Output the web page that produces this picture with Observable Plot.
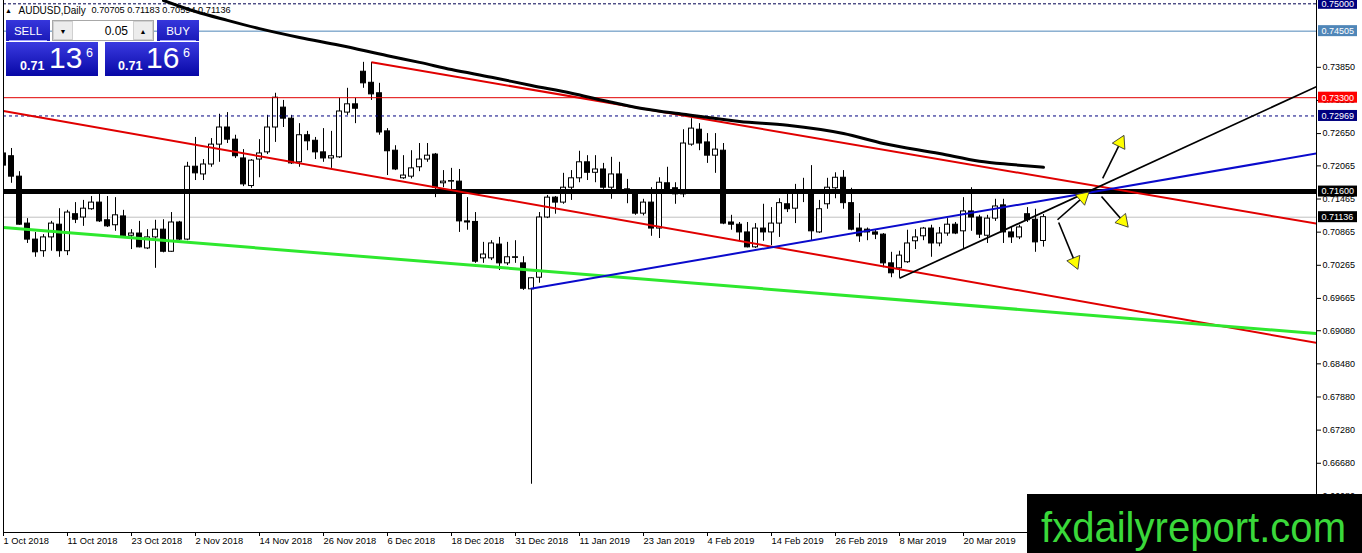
<!DOCTYPE html>
<html><head><meta charset="utf-8">
<script src="https://cdn.jsdelivr.net/npm/d3@7"></script>
<script src="https://cdn.jsdelivr.net/npm/@observablehq/plot@0.6"></script>
<style>
body{margin:0;background:#fff;}
#wrap{position:relative;width:1362px;height:553px;overflow:hidden;background:#fff;}
#wrap svg.plot{position:absolute;left:0;top:0;}
#ov{position:absolute;left:0;top:0;pointer-events:none;font-family:"Liberation Sans",Arial,sans-serif;}
</style></head>
<body><div id="wrap"></div>
<script>
// ---- data (AUDUSD daily, bar index 0 = 1 Oct 2018) ----
const open = [0.7229,0.7224,0.7187,0.7102,0.7073,0.7052,0.7077,0.7100,0.7052,0.7119,
0.7113,0.7128,0.7140,0.7108,0.7099,0.7115,0.7080,0.7084,0.7057,0.7077,
0.7091,0.7051,0.7104,0.7073,0.7205,0.7191,0.7209,0.7245,0.7276,0.7254,
0.7220,0.7170,0.7218,0.7231,0.7276,0.7312,0.7292,0.7213,0.7262,0.7252,
0.7231,0.7220,0.7222,0.7303,0.7318,0.7377,0.7357,0.7338,0.7269,0.7234,
0.7184,0.7187,0.7204,0.7218,0.7227,0.7175,0.7178,0.7178,0.7106,0.7105,
0.7039,0.7039,0.7064,0.7030,0.7041,0.7030,0.6983,0.7004,0.7113,0.7149,
0.7140,0.7167,0.7184,0.7213,0.7194,0.7200,0.7167,0.7191,0.7164,0.7158,
0.7120,0.7140,0.7093,0.7175,0.7166,0.7155,0.7245,0.7272,0.7249,0.7225,
0.7234,0.7104,0.7100,0.7086,0.7059,0.7093,0.7086,0.7102,0.7137,0.7129,
0.7160,0.7158,0.7086,0.7137,0.7166,0.7185,0.7139,0.7093,0.7091,0.7086,
0.7082,0.7030,0.7021,0.7032,0.7070,0.7079,0.7093,0.7066,0.7084,0.7100,
0.7088,0.7124,0.7113,0.7080,0.7111,0.7135,0.7086,0.7077,0.7119,0.7109,
0.70705];
const high = [0.7236,0.7238,0.7196,0.7111,0.7086,0.7082,0.7106,0.7129,0.7126,0.7140,
0.7144,0.7151,0.7157,0.7151,0.7149,0.7126,0.7091,0.7106,0.7091,0.7108,
0.7109,0.7122,0.7106,0.7213,0.7258,0.7218,0.7256,0.7300,0.7303,0.7262,
0.7236,0.7218,0.7254,0.7298,0.7338,0.7325,0.7298,0.7283,0.7269,0.7258,
0.7274,0.7269,0.7329,0.7347,0.7329,0.7394,0.7394,0.7356,0.7274,0.7243,
0.7225,0.7234,0.7247,0.7247,0.7229,0.7198,0.7202,0.7200,0.7149,0.7122,
0.7068,0.7071,0.7077,0.7068,0.7071,0.7042,0.7004,0.7122,0.7153,0.7151,
0.7193,0.7198,0.7233,0.7225,0.7225,0.7211,0.7222,0.7213,0.7182,0.7159,
0.7146,0.7167,0.7185,0.7204,0.7176,0.7272,0.7292,0.7283,0.7265,0.7265,
0.7247,0.7117,0.7104,0.7104,0.7102,0.7137,0.7131,0.7147,0.7157,0.7173,
0.7184,0.7207,0.7144,0.7184,0.7194,0.7198,0.7166,0.7120,0.7094,0.7090,
0.7084,0.7050,0.7052,0.7090,0.7091,0.7095,0.7099,0.7095,0.7111,0.7104,
0.7149,0.7167,0.7117,0.7117,0.7146,0.7146,0.7095,0.7099,0.7131,0.7128,
0.71183];
const low = [0.7198,0.7175,0.7099,0.7066,0.7041,0.7041,0.7052,0.7041,0.7044,0.7102,
0.7097,0.7126,0.7104,0.7095,0.7088,0.7078,0.7055,0.7058,0.7055,0.7021,
0.7049,0.7050,0.7071,0.7071,0.7180,0.7180,0.7204,0.7213,0.7247,0.7220,
0.7169,0.7166,0.7185,0.7227,0.7249,0.7276,0.7209,0.7204,0.7234,0.7218,
0.7213,0.7202,0.7220,0.7298,0.7283,0.7347,0.7325,0.7262,0.7189,0.7198,
0.7182,0.7183,0.7196,0.7213,0.7149,0.7167,0.7162,0.7086,0.7090,0.7030,
0.7030,0.7035,0.7017,0.7026,0.7030,0.6981,0.6630,0.6994,0.7111,0.7119,
0.7137,0.7144,0.7176,0.7180,0.7176,0.7164,0.7146,0.7158,0.7138,0.7117,
0.7116,0.7079,0.7075,0.7157,0.7137,0.7149,0.7242,0.7234,0.7211,0.7193,
0.7100,0.7090,0.7070,0.7058,0.7057,0.7070,0.7062,0.7077,0.7122,0.7102,
0.7140,0.7071,0.7084,0.7128,0.7147,0.7128,0.7089,0.7068,0.7071,0.7073,
0.7022,0.7004,0.7003,0.7030,0.7055,0.7071,0.7041,0.7060,0.7079,0.7082,
0.7057,0.7088,0.7075,0.7066,0.7106,0.7066,0.7066,0.7073,0.7104,0.7050,
0.70594];
const close = [0.7207,0.7187,0.7100,0.7073,0.7050,0.7077,0.7102,0.7052,0.7122,0.7109,
0.7129,0.7140,0.7106,0.7097,0.7117,0.7079,0.7084,0.7059,0.7077,0.7091,
0.7051,0.7104,0.7073,0.7205,0.7193,0.7209,0.7245,0.7276,0.7254,0.7224,
0.7173,0.7216,0.7229,0.7276,0.7330,0.7292,0.7211,0.7262,0.7251,0.7231,
0.7220,0.7224,0.7305,0.7318,0.7310,0.7356,0.7336,0.7267,0.7233,0.7200,
0.7189,0.7202,0.7218,0.7225,0.7167,0.7178,0.7179,0.7106,0.7104,0.7033,
0.7046,0.7066,0.7030,0.7041,0.7040,0.6984,0.7003,0.7113,0.7149,0.7140,
0.7167,0.7184,0.7213,0.7194,0.7200,0.7167,0.7191,0.7160,0.7157,0.7120,
0.7140,0.7093,0.7176,0.7158,0.7155,0.7247,0.7274,0.7247,0.7225,0.7236,
0.7102,0.7100,0.7086,0.7059,0.7093,0.7086,0.7102,0.7139,0.7128,0.7157,
0.7157,0.7088,0.7128,0.7167,0.7185,0.7139,0.7091,0.7079,0.7086,0.7082,
0.7030,0.7012,0.7044,0.7066,0.7077,0.7093,0.7066,0.7084,0.7100,0.7084,
0.7124,0.7113,0.7082,0.7111,0.7133,0.7086,0.7077,0.7095,0.7108,0.7068,
0.71136];

// moving average (thick black), read at sample bars
const maBar   = [20,24,28,32,37,42,48,52,56,61,66,71,75,80,85,92,98,105,110,117,122,126,130];
const maPrice = [0.7506,0.7486,0.7470,0.7455,0.7439,0.7425,0.7406,0.7394,0.7381,0.7367,0.7352,0.7338,0.7325,0.7310,0.7300,0.7287,0.7280,0.7265,0.7247,0.7229,0.7215,0.7209,0.7204];

// trend lines: red upper, red lower, green, blue, black
const trendBar1   = [46, 0, 0, 65.9, 112];
const trendPrice1 = [0.7394, 0.7306, 0.7095, 0.6984, 0.7003];
const trendBar2   = [164.125, 164.125, 164.125, 164.125, 164.125];
const trendPrice2 = [0.7102, 0.6886, 0.6903, 0.7229, 0.7350];

// horizontal levels
const levels = [0.75000, 0.74505, 0.73300, 0.72969, 0.71600, 0.71136];

// arrows (start -> end)
const arrowBar1   = [131.75, 137.4, 137.25, 131.9];
const arrowPrice1 = [0.7109, 0.7184, 0.7151, 0.7104];
const arrowBar2   = [135.6, 140.0, 140.5, 134.25];
const arrowPrice2 = [0.7158, 0.7260, 0.7097, 0.7021];

// axes
const xTickBars   = [0,8,16,24,32,40,48,56,64,72,80,88,96,104,112,120];
const xTickLabels = ["1 Oct 2018","11 Oct 2018","23 Oct 2018","2 Nov 2018","14 Nov 2018","26 Nov 2018","6 Dec 2018","18 Dec 2018","31 Dec 2018","11 Jan 2019","23 Jan 2019","4 Feb 2019","14 Feb 2019","26 Feb 2019","8 Mar 2019","20 Mar 2019"];
const yTicks = [0.73850,0.73250,0.72650,0.72065,0.71465,0.70865,0.70265,0.69665,0.69080,0.68480,0.67880,0.67280,0.66680,0.66080];
const xDomain = [0, 164.125];
const yDomain = [0.65426, 0.7506];

// ---- styles ----
const levelStyle = [
  {stroke:"#000050", strokeWidth:1, strokeDasharray:"3,2"},
  {stroke:"#4f86b8", strokeWidth:1},
  {stroke:"#e00000", strokeWidth:1},
  {stroke:"#000080", strokeWidth:1, strokeDasharray:"3,3"},
  {stroke:"#000000", strokeWidth:5},
  {stroke:"#c0c0c0", strokeWidth:1}
];
const levelTagFill = ["#00007f","#4f86b8","#ff0000","#00007f","#000000","#000000"];
const trendStyle = [
  {stroke:"#e00000", strokeWidth:2},
  {stroke:"#e00000", strokeWidth:2},
  {stroke:"#2ee82e", strokeWidth:3},
  {stroke:"#0a0acc", strokeWidth:2},
  {stroke:"#000000", strokeWidth:1.7}
];

const W = 1362, H = 553, mL = 3, mR = 46, mT = 0, mB = 21;
const xs = d3.scaleLinear(xDomain, [mL, W - mR]);
const ys = d3.scaleLinear(yDomain, [H - mB, mT]);
const pxPerPrice = (H - mB - mT) / (yDomain[1] - yDomain[0]);
const pxPerBar = (W - mR - mL) / (xDomain[1] - xDomain[0]);

const bars = open.map((o, i) => ({i, o, h: high[i], l: low[i], c: close[i], up: close[i] >= o}));
const ma = maBar.map((b, k) => ({b, p: maPrice[k]}));
const trends = trendBar1.map((b, k) => ({b1: b, p1: trendPrice1[k], b2: trendBar2[k], p2: trendPrice2[k], k}));
const arrows = arrowBar1.map((b, k) => ({b1: b, p1: arrowPrice1[k], b2: arrowBar2[k], p2: arrowPrice2[k]}));
const heads = arrows.map(a => {
  const x0 = xs(a.b1), y0 = ys(a.p1), x1 = xs(a.b2), y1 = ys(a.p2);
  const len = Math.hypot(x1 - x0, y1 - y0), ux = (x1 - x0) / len, uy = (y1 - y0) / len;
  return {x: xs.invert(x1 - ux * 7), y: ys.invert(y1 - uy * 7), a: Math.atan2(ux, -uy) * 180 / Math.PI};
});
const tags = levels.map((v, k) => ({v, k}));
const half = 0.3125;

const plot = Plot.plot({
  width: W, height: H,
  marginLeft: mL, marginRight: mR, marginTop: mT, marginBottom: mB,
  x: {type: "linear", domain: xDomain},
  y: {type: "linear", domain: yDomain},
  color: {type: "identity"},
  style: {fontFamily: "'Liberation Sans', Arial, sans-serif", fontSize: "9px", background: "white", overflow: "visible", color: "black"},
  marks: [
    Plot.text(["▲"], {text: d => d, frameAnchor: "top-left", dx: 5, dy: 10, fontSize: 7, textAnchor: "middle", lineAnchor: "middle", fill: "black"}),
    Plot.text(["AUDUSD,Daily"], {text: d => d, frameAnchor: "top-left", dx: 15, dy: 10, fontSize: 10, textAnchor: "start", lineAnchor: "middle", fill: "black"}),
    Plot.text([[open[130], high[130], low[130], close[130]].map(v => v.toFixed(5)).join(" ")], {text: d => d, frameAnchor: "top-left", dx: 88, dy: 10, fontSize: 9.2, textAnchor: "start", lineAnchor: "middle", fill: "black"}),
    Plot.ruleY([levels[5]], {...levelStyle[5], clip: true}),
    Plot.ruleX(bars, {x: "i", y1: "l", y2: "h", stroke: "black", strokeWidth: 1, clip: true}),
    Plot.rect(bars, {x1: d => d.i - half, x2: d => d.i + half, y1: "o", y2: "c", fill: d => d.up ? "white" : "black", stroke: "black", strokeWidth: 1, clip: true}),
    ...levels.slice(0, 5).map((v, k) => Plot.ruleY([v], {...levelStyle[k], clip: true})),
    ...trends.map(t => Plot.link([t], {x1: "b1", y1: "p1", x2: "b2", y2: "p2", ...trendStyle[t.k], clip: true})),
    Plot.line(ma, {x: "b", y: "p", stroke: "black", strokeWidth: 3, curve: "monotone-x", clip: true}),
    Plot.link(arrows, {x1: "b1", y1: "p1", x2: "b2", y2: "p2", stroke: "black", strokeWidth: 1.6, clip: true}),
    Plot.dot(heads, {x: "x", y: "y", rotate: "a", symbol: "triangle", r: 5.2, fill: "#ffff00", stroke: "#333", strokeWidth: 0.8, clip: true}),
    Plot.ruleX([xDomain[0]], {stroke: "black"}),
    Plot.ruleX([xDomain[1]], {stroke: "black"}),
    Plot.ruleY([yDomain[0]], {stroke: "black"}),
    Plot.axisY({anchor: "right", ticks: yTicks, tickFormat: d3.format(".5f"), tickSize: 4, tickPadding: 2, fontSize: 9, label: null}),
    Plot.axisX({ticks: xTickBars, tickFormat: d => xTickLabels[xTickBars.indexOf(d)], tickSize: 4, tickPadding: 1, textAnchor: "start", dx: 0, fontSize: 9.3, label: null}),
    Plot.rect(tags, {x1: xDomain[1] + 2 / pxPerBar, x2: xDomain[1] + 41 / pxPerBar, y1: d => d.v - 5.5 / pxPerPrice, y2: d => d.v + 5.5 / pxPerPrice, fill: d => levelTagFill[d.k]}),
    Plot.text(tags, {x: xDomain[1], y: "v", dx: 5, text: d => d3.format(".5f")(d.v), textAnchor: "start", fill: "white", fontSize: 9})
  ]
});
plot.classList.add("plot");
const wrap = document.getElementById("wrap");
wrap.appendChild(plot);

// overlay: trading panel and watermark
wrap.insertAdjacentHTML("beforeend", `
<svg id="ov" width="${W}" height="${H}">
 <defs>
  <linearGradient id="gBig" x1="0" y1="0" x2="0" y2="1"><stop offset="0" stop-color="#3a3ae0"/><stop offset="1" stop-color="#0707a6"/></linearGradient>
  <linearGradient id="gBtn" x1="0" y1="0" x2="0" y2="1"><stop offset="0" stop-color="#3636dc"/><stop offset="1" stop-color="#1a1ab8"/></linearGradient>
 </defs>
 <rect x="6" y="20" width="44" height="21" fill="url(#gBtn)"/>
 <line x1="9" x2="47" y1="40.5" y2="40.5" stroke="#a0a0ff"/>
 <text x="28" y="35" fill="#fff" font-size="11.5" text-anchor="middle">SELL</text>
 <rect x="52.5" y="20.5" width="101" height="20" fill="#fff" stroke="#a8a8a8"/>
 <rect x="53.5" y="21.5" width="19" height="18" fill="#ececec" stroke="#d0d0d0"/>
 <text x="63" y="33.5" font-size="7" text-anchor="middle" fill="#000">▼</text>
 <rect x="133.5" y="21.5" width="19" height="18" fill="#ececec" stroke="#d0d0d0"/>
 <text x="143" y="33.5" font-size="7" text-anchor="middle" fill="#000">▲</text>
 <text x="128" y="35" font-size="12" text-anchor="end" fill="#000">0.05</text>
 <rect x="157" y="20" width="42" height="21" fill="url(#gBtn)"/>
 <line x1="160" x2="196" y1="40.5" y2="40.5" stroke="#a0a0ff"/>
 <text x="178" y="35" fill="#fff" font-size="11.5" text-anchor="middle">BUY</text>
 <rect x="6" y="42" width="92" height="34" fill="url(#gBig)"/>
 <text x="20" y="70" font-size="12.5" font-weight="bold" fill="#fff">0.71</text>
 <text x="49" y="68" font-size="30" fill="#fff">13</text>
 <text x="86" y="57" font-size="12.5" fill="#fff">6</text>
 <rect x="105" y="42" width="94" height="34" fill="url(#gBig)"/>
 <text x="118" y="70" font-size="12.5" font-weight="bold" fill="#fff">0.71</text>
 <text x="146" y="68" font-size="30" fill="#fff">16</text>
 <text x="183" y="57" font-size="12.5" fill="#fff">6</text>
 <rect x="1027" y="494" width="335" height="59" fill="#000"/>
 <text x="1041" y="542" font-size="42" fill="#3ad83a" textLength="305" lengthAdjust="spacingAndGlyphs">fxdailyreport.com</text>
</svg>`);
</script>
</body></html>
